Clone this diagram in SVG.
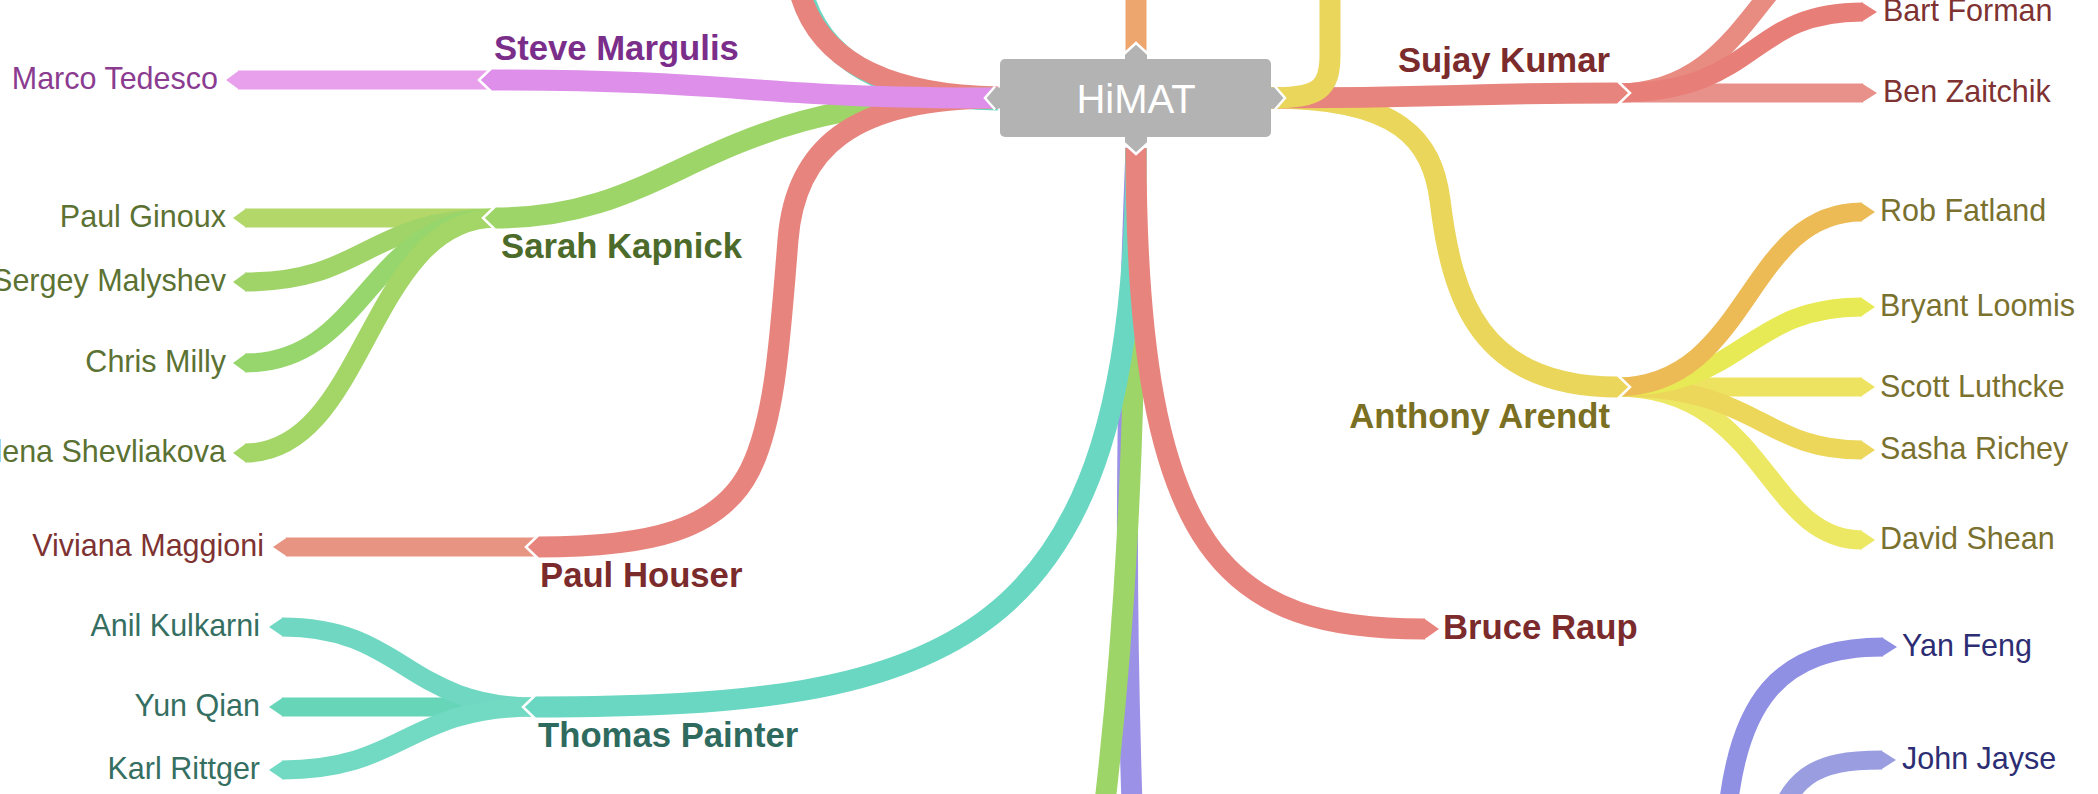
<svg xmlns="http://www.w3.org/2000/svg" width="2098" height="794" viewBox="0 0 2098 794">
<style>
.pu{stroke:#dd8fe9;fill:#dd8fe9}.pl{stroke:#e8a0ec;fill:#e8a0ec}
.gr{stroke:#9dd569;fill:#9dd569}.g1{stroke:#b4d76a;fill:#b4d76a}.g2{stroke:#a0d468;fill:#a0d468}.g3{stroke:#96d66c;fill:#96d66c}.g4{stroke:#a3d667;fill:#a3d667}
.rd{stroke:#e8847e;fill:#e8847e}.r1{stroke:#e89482;fill:#e89482}.rb{stroke:#e87e78;fill:#e87e78}.rz{stroke:#e8918a;fill:#e8918a}.ru{stroke:#e88b80;fill:#e88b80}
.te{stroke:#6ad7c2;fill:#6ad7c2}.t1{stroke:#70d8c2;fill:#70d8c2}.t2{stroke:#66d5b8;fill:#66d5b8}.t3{stroke:#72d9c3;fill:#72d9c3}
.ye{stroke:#ebd65c;fill:#ebd65c}.y1{stroke:#ecbb56;fill:#ecbb56}.y2{stroke:#e8ea55;fill:#e8ea55}.y3{stroke:#ede361;fill:#ede361}.y4{stroke:#ecd75b;fill:#ecd75b}.y5{stroke:#ece863;fill:#ece863}
.or{stroke:#eea66f;fill:#eea66f}.vi{stroke:#9b91e6;fill:#9b91e6}.v1{stroke:#8f8fe4;fill:#8f8fe4}.v2{stroke:#9a9de0;fill:#9a9de0}
.r{fill:none;stroke-width:21;stroke-linecap:butt}
.l{fill:none;stroke-width:19;stroke-linecap:butt}
.t{stroke:none}
.w{fill:none;stroke:#fff;stroke-width:2.5;stroke-linejoin:miter}
text{font-family:"Liberation Sans",Arial,Helvetica,sans-serif}
.b{font-size:34.7px;font-weight:bold}
.n{font-size:30.5px}
.e{text-anchor:end}
.cp{fill:#7a2e8a}.cpl{fill:#8b3c91}.cg{fill:#4c6b2a}.cgl{fill:#5b7233}.cr{fill:#7b2b2b}.crl{fill:#7e3232}
.ct{fill:#2e6b5e}.ctl{fill:#356f62}.cy{fill:#7a6f22}.cyl{fill:#7a712f}.cv{fill:#2d2d73}
</style>

<g id="connectors">
  <!-- top-left off-screen branches -->
  <path class="r te" d="M998,100 C892,98 815,64 800,-20"/>
  <path class="r rd" d="M998,97 C890,95 812,62 797,-20"/>

  <!-- Sarah Kapnick children -->
  <path class="l g1" d="M497,218 L245,218"/>
  <polygon class="t g1" points="246,208.5 233,218 246,227.5"/>
  <path class="l g2" d="M497,218 C367,218 367,282 245,282"/>
  <polygon class="t g2" points="246,272.5 233,282 246,291.5"/>
  <path class="l g3" d="M497,218 C367,218 367,363 245,363"/>
  <polygon class="t g3" points="246,353.5 233,363 246,372.5"/>
  <path class="l g4" d="M497,218 C367,218 367,453 245,453"/>
  <polygon class="t g4" points="246,443.5 233,453 246,462.5"/>
  <!-- Sarah Kapnick -->
  <path class="r gr" d="M998,98 C700,98 680,218 495,218"/>
  <polygon class="t gr" points="496,207.5 483,218 496,228.5"/>
  <polyline class="w" points="495,206.5 483,218 495,229.5"/>

  <!-- Paul Houser child -->
  <path class="l r1" d="M540,547 L286,547"/>
  <polygon class="t r1" points="287,537.5 273,547 287,556.5"/>
  <!-- Paul Houser -->
  <path class="r rd" d="M998,98 C850,98 795,150 788,240 C780,340 775,420 750,470 C720,530 650,547 538,547"/>
  <polygon class="t rd" points="539,536.5 526,547 539,557.5"/>
  <polyline class="w" points="538,535.5 526,547 538,558.5"/>

  <!-- Steve Margulis child -->
  <path class="l pl" d="M493,80 L238,80"/>
  <polygon class="t pl" points="239,70.5 226,80 239,89.5"/>
  <!-- Steve Margulis -->
  <path class="r pu" d="M998,98 C745,98 745,80 491,80"/>
  <polygon class="t pu" points="492,69.5 479,80 492,90.5"/>
  <polyline class="w" points="491,68.5 479,80 491,91.5"/>

  <!-- bottom off-screen branches -->
  <path class="r vi" d="M1136,148 C1126,400 1124,600 1134,860"/>
  <path class="r gr" d="M1136,148 C1136,450 1125,650 1098,860"/>

  <!-- Thomas Painter children -->
  <path class="l t2" d="M537,707 L282,707"/>
  <polygon class="t t2" points="283,697.5 269,707 283,716.5"/>
  <path class="l t1" d="M537,707 C405,707 405,627 282,627"/>
  <polygon class="t t1" points="283,617.5 269,627 283,636.5"/>
  <path class="l t3" d="M537,707 C405,707 405,770 282,770"/>
  <polygon class="t t3" points="283,760.5 269,770 283,779.5"/>
  <!-- Thomas Painter -->
  <path class="r te" d="M1136,148 C1136,650 950,707 535,707"/>
  <polygon class="t te" points="536,696.5 523,707 536,717.5"/>
  <polyline class="w" points="535,695.5 523,707 535,718.5"/>

  <!-- Bruce Raup -->
  <path class="r rd" d="M1136,148 C1136,560 1230,629 1425,629"/>
  <polygon class="t rd" points="1424,618.5 1439,629 1424,639.5"/>

  <!-- top off-screen branch -->
  <path class="r or" d="M1136,52 L1136,-5"/>

  <!-- Anthony Arendt children -->
  <path class="l y5" d="M1616,387 C1765,387 1765,540 1862,540"/>
  <polygon class="t y5" points="1861,530.5 1875,540 1861,549.5"/>
  <path class="l y3" d="M1616,387 L1862,387"/>
  <polygon class="t y3" points="1861,377.5 1875,387 1861,396.5"/>
  <path class="l y4" d="M1616,387 C1760,387 1760,450 1862,450"/>
  <polygon class="t y4" points="1861,440.5 1875,450 1861,459.5"/>
  <path class="l y2" d="M1616,387 C1745,387 1745,307 1862,307"/>
  <polygon class="t y2" points="1861,297.5 1875,307 1861,316.5"/>
  <path class="l y1" d="M1616,387 C1750,387 1745,212 1862,212"/>
  <polygon class="t y1" points="1861,202.5 1875,212 1861,221.5"/>
  <!-- Anthony Arendt -->
  <path class="r ye" d="M1270,98 C1400,98 1432,140 1440,200 C1452,300 1480,387 1618,387"/>
  <polygon class="t ye" points="1617,376.5 1630,387 1617,397.5"/>
  <polyline class="w" points="1618,375.5 1630,387 1618,398.5"/>

  <!-- Sujay Kumar children -->
  <path class="l rz" d="M1616,93 L1863,93"/>
  <polygon class="t rz" points="1862,83.5 1877,93 1862,102.5"/>
  <path class="l ru" d="M1616,93 C1760,93 1760,-75 1880,-75"/>
  <path class="l rb" d="M1616,93 C1760,93 1745,12 1863,12"/>
  <polygon class="t rb" points="1862,2.5 1877,12 1862,21.5"/>
  <!-- Sujay Kumar -->
  <path class="r rd" d="M1270,98 C1450,98 1460,93 1618,93"/>
  <polygon class="t rd" points="1617,82.5 1630,93 1617,103.5"/>
  <polyline class="w" points="1618,81.5 1630,93 1618,104.5"/>

  <!-- right off-screen branch going up -->
  <path class="r ye" d="M1270,98 C1318,98 1330,90 1330,55 L1330,-5"/>

  <!-- bottom-right branches from off-screen parent -->
  <path class="l v1" d="M1726,830 C1735,700 1780,647 1883,647"/>
  <polygon class="t v1" points="1882,637.5 1897,647 1882,656.5"/>
  <path class="l v2" d="M1770,850 C1785,775 1815,760 1882,760"/>
  <polygon class="t v2" points="1881,750.5 1896,760 1881,769.5"/>
</g>

<g id="node-himat">
  <polygon fill="#b3b3b3" points="1002,87.5 994,87.5 985,98 994,108.5 1002,108.5"/>
  <polygon fill="#b3b3b3" points="1269,87.5 1276,87.5 1285,98 1276,108.5 1269,108.5"/>
  <polygon fill="#b3b3b3" points="1125,61 1125,53 1136,43 1147,53 1147,61"/>
  <polygon fill="#b3b3b3" points="1125,135 1125,144 1136,154 1147,144 1147,135"/>
  <polyline class="w" points="995,86.5 985,98 995,109.5"/>
  <polyline class="w" points="1275,86.5 1285,98 1275,109.5"/>
  <polyline class="w" points="1124,54 1136,43 1148,54"/>
  <polyline class="w" points="1124,143 1136,154 1148,143"/>
  <rect x="1000" y="59" width="271" height="78" rx="5" fill="#b3b3b3"/>
  <text x="1136" y="112.5" font-size="40" fill="#ffffff" text-anchor="middle">HiMAT</text>
</g>

<g id="node-steve-margulis"><text class="b cp" x="494" y="60">Steve Margulis</text></g>
<g id="node-marco-tedesco"><text class="n cpl e" x="218" y="88.5">Marco Tedesco</text></g>
<g id="node-sarah-kapnick"><text class="b cg" x="501" y="258">Sarah Kapnick</text></g>
<g id="node-paul-ginoux"><text class="n cgl e" x="226" y="226.5">Paul Ginoux</text></g>
<g id="node-sergey-malyshev"><text class="n cgl e" x="226" y="290.5">Sergey Malyshev</text></g>
<g id="node-chris-milly"><text class="n cgl e" x="226" y="371.5">Chris Milly</text></g>
<g id="node-elena-shevliakova"><text class="n cgl e" x="226" y="461.5">Elena Shevliakova</text></g>
<g id="node-paul-houser"><text class="b cr" x="540" y="587">Paul Houser</text></g>
<g id="node-viviana-maggioni"><text class="n crl e" x="264" y="555.5">Viviana Maggioni</text></g>
<g id="node-thomas-painter"><text class="b ct" x="538" y="747">Thomas Painter</text></g>
<g id="node-anil-kulkarni"><text class="n ctl e" x="260" y="635.5">Anil Kulkarni</text></g>
<g id="node-yun-qian"><text class="n ctl e" x="260" y="715.5">Yun Qian</text></g>
<g id="node-karl-rittger"><text class="n ctl e" x="260" y="778.5">Karl Rittger</text></g>
<g id="node-bruce-raup"><text class="b cr" x="1443" y="639">Bruce Raup</text></g>
<g id="node-sujay-kumar"><text class="b cr e" x="1610" y="72">Sujay Kumar</text></g>
<g id="node-bart-forman"><text class="n crl" x="1883" y="20.5">Bart Forman</text></g>
<g id="node-ben-zaitchik"><text class="n crl" x="1883" y="101.5">Ben Zaitchik</text></g>
<g id="node-anthony-arendt"><text class="b cy e" x="1610" y="428">Anthony Arendt</text></g>
<g id="node-rob-fatland"><text class="n cyl" x="1880" y="220.5">Rob Fatland</text></g>
<g id="node-bryant-loomis"><text class="n cyl" x="1880" y="315.5">Bryant Loomis</text></g>
<g id="node-scott-luthcke"><text class="n cyl" x="1880" y="396.5">Scott Luthcke</text></g>
<g id="node-sasha-richey"><text class="n cyl" x="1880" y="458.5">Sasha Richey</text></g>
<g id="node-david-shean"><text class="n cyl" x="1880" y="548.5">David Shean</text></g>
<g id="node-yan-feng"><text class="n cv" x="1902" y="655.5">Yan Feng</text></g>
<g id="node-john-jayse"><text class="n cv" x="1902" y="768.5">John Jayse</text></g>
</svg>
